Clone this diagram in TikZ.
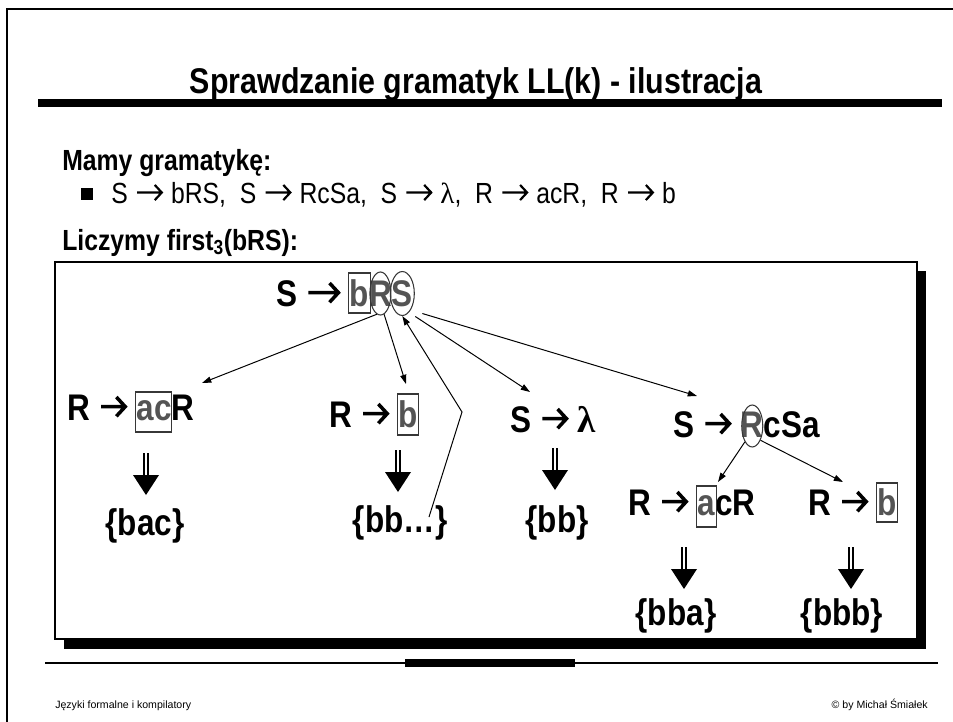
\documentclass[tikz,border=0pt]{standalone}
\usepackage{fontspec}
\setmainfont{Liberation Sans}[FakeStretch=0.85]
\newfontfamily\plainsans{Liberation Sans}
\newfontfamily\lamfont{Liberation Serif}
\usetikzlibrary{arrows.meta,calc,shapes.geometric}

\definecolor{hlgray}{RGB}{84,84,84}
\definecolor{framegray}{RGB}{55,55,55}

% production arrow: straight shaft with an open chevron head
\newcommand\arwlw{0.095em}
\newcommand\arwlen{0.70}
\newcommand\arwkern{0.26em}
\newcommand\arw[1][\arwlen]{\kern\arwkern\tikz[baseline=0pt,x=1em,y=1em]{%
  \path (0,0) (#1,0);
  \draw[black,line width=\arwlw,line cap=butt,line join=miter]
    (0.02,0.36) -- (#1-0.05,0.36)
    (#1-0.27,0.62) -- (#1-0.03,0.36) -- (#1-0.27,0.10);}\kern\arwkern}

\tikzset{
  prod/.style={inner sep=0pt, outer sep=0pt, anchor=base west,
    font=\fontsize{28}{32}\selectfont\bfseries},
  hlpart/.style={prod, text=hlgray},
  setnode/.style={inner sep=0pt, anchor=base,
    font=\fontsize{28}{32}\selectfont\bfseries},
  head/.style={inner sep=0pt, anchor=base west,
    font=\fontsize{22}{26}\selectfont\bfseries},
  gram/.style={inner sep=0pt, anchor=base west,
    font=\fontsize{22}{26}\selectfont},
  foot/.style={inner sep=0pt, font=\plainsans\fontsize{8}{10}\selectfont},
  letterbox/.style={draw=framegray, line width=0.8pt},
  oval/.style={draw=framegray, line width=0.8pt, ellipse, inner sep=0pt},
  link/.style={draw=black, line width=0.75pt, -{Triangle[length=7pt,width=4.6pt]}},
  derives/.pic={
    \draw[line width=1.5pt] (-2.4,0) -- (-2.4,22) (2.4,0) -- (2.4,22);
    \fill (-13,22) -- (13,22) -- (0,42) -- cycle;
  },
}

\begin{document}
\begin{tikzpicture}[x=0.7555pt,y=-0.7555pt]
\useasboundingbox (0,0) rectangle (953,722);
\fill[white] (0,0) rectangle (953,722);

% slide frame and title
\draw[line width=1.6pt] (7,722) -- (7,9) -- (953,9);
\fill (38,99) rectangle (942,107);
\node[inner sep=0pt, anchor=base, font=\fontsize{27}{31}\selectfont\bfseries]
  (title) at (476,93) {Sprawdzanie gramatyk LL(k) - ilustracja};

% grammar
\node[head] (h1) at (62,170) {Mamy gramatykę:};
\node[fill, inner sep=0pt, minimum size=9.5pt] (bul) at (87,194) {};
\node[gram] (g) at (111,203) {\def\arwlw{0.075em}\def\arwlen{0.9}\def\arwkern{0.28em}S\arw bRS,\ \ S\arw RcSa,\ \ S\arw{\lamfont λ},\ \ R\arw acR,\ \ R\arw b};
\node[head] (h2) at (62,250) {Liczymy first\textsubscript{3}(bRS):};

% panel with drop shadow
\fill (64,271) rectangle (926,649);
\draw[line width=1.2pt, fill=white] (55,262) rectangle (917,639);

% footer
\draw[line width=1pt] (45,663) -- (938,663);
\fill (405,659) rectangle (575,667);
\node[foot, anchor=base west] (f1) at (55,708) {Języki formalne i kompilatory};
\node[foot, anchor=base east] (f2) at (928,708) {© by Michał Śmiałek};

% S -> bRS
\node[prod] (p0) at (276,306) {S\arw[0.86]};
\node[hlpart] (p0b) at (p0.base east) {b};
\node[hlpart] (p0r) at (p0b.base east) {R};
\node[hlpart] (p0s) at (p0r.base east) {S};
\draw[letterbox] ($(p0b.base west)+(-1,7)$) rectangle ($(p0b.base east)+(1,-33)$);
\node[oval, minimum width=15.9pt, minimum height=32.5pt] (eR) at ($(p0r.base)+(0,-12.5)$) {};
\node[oval, minimum width=18.1pt, minimum height=33.2pt] (eS) at ($(p0s.base)+(0,-12.5)$) {};

% R -> acR
\node[prod] (q1) at (67,420) {R\arw};
\node[hlpart] (q1a) at (q1.base east) {ac};
\node[prod] (q1r) at (q1a.base east) {R};
\draw[letterbox] ($(q1a.base west)+(-1,12)$) rectangle ($(q1a.base east)+(0,-28)$);

% R -> b
\node[prod] (q2) at (329,427) {R\arw};
\node[hlpart] (q2b) at (q2.base east) {b};
\draw[letterbox] ($(q2b.base west)+(-1,8)$) rectangle ($(q2b.base east)+(1,-33)$);

% S -> lambda
\node[prod] (q3) at (510,432) {S\arw{\lamfont λ}};

% S -> RcSa
\node[prod] (q4) at (673,437) {S\arw};
\node[hlpart] (q4r) at (q4.base east) {R};
\node[prod] (q4c) at (q4r.base east) {cSa};
\node[oval, minimum width=15.9pt, minimum height=31.7pt] (e4) at ($(q4r.base)+(0,-11)$) {};

% R -> acR (below RcSa)
\node[prod] (q5) at (628,515) {R\arw};
\node[hlpart] (q5a) at (q5.base east) {a};
\node[prod] (q5c) at (q5a.base east) {cR};
\draw[letterbox] ($(q5a.base west)+(-1,12)$) rectangle ($(q5a.base east)+(1,-29)$);

% R -> b (below RcSa)
\node[prod] (q6) at (808,515) {R\arw};
\node[hlpart] (q6b) at (q6.base east) {b};
\draw[letterbox] ($(q6b.base west)+(-1,7)$) rectangle ($(q6b.base east)+(1,-32)$);

% resulting sets
\node[setnode] (s1) at (145,535) {\{bac\}};
\node[setnode] (s2) at (400,532) {\{bb…\}};
\node[setnode] (s3) at (557,532) {\{bb\}};
\node[setnode] (s4) at (676,625) {\{bba\}};
\node[setnode] (s5) at (842,625) {\{bbb\}};

\pic at (146,453) {derives};
\pic at (398,450) {derives};
\pic at (555,448) {derives};
\pic at (684,547) {derives};
\pic at (851,547) {derives};

% connectors
\coordinate (t1) at (202,383);
\coordinate (t2) at (406,384);
\coordinate (c3a) at (429,517);
\coordinate (c3b) at (462,412);
\coordinate (t4) at (530,392);
\coordinate (t5) at (697,396);
\coordinate (t6) at (718,482);
\coordinate (t7) at (843,482);
\draw[link] (eR.-100) -- (t1);
\draw[link] (eR.-80) -- (t2);
\draw[link] (c3a) -- (c3b) -- (eS.south);
\draw[link] ($(eS.center)+(13,23)$) -- (t4);
\draw[link] ($(eS.center)+(20,20)$) -- (t5);
\draw[link] (e4.-115) -- (t6);
\draw[link] (e4.-60) -- (t7);
\end{tikzpicture}
\end{document}
